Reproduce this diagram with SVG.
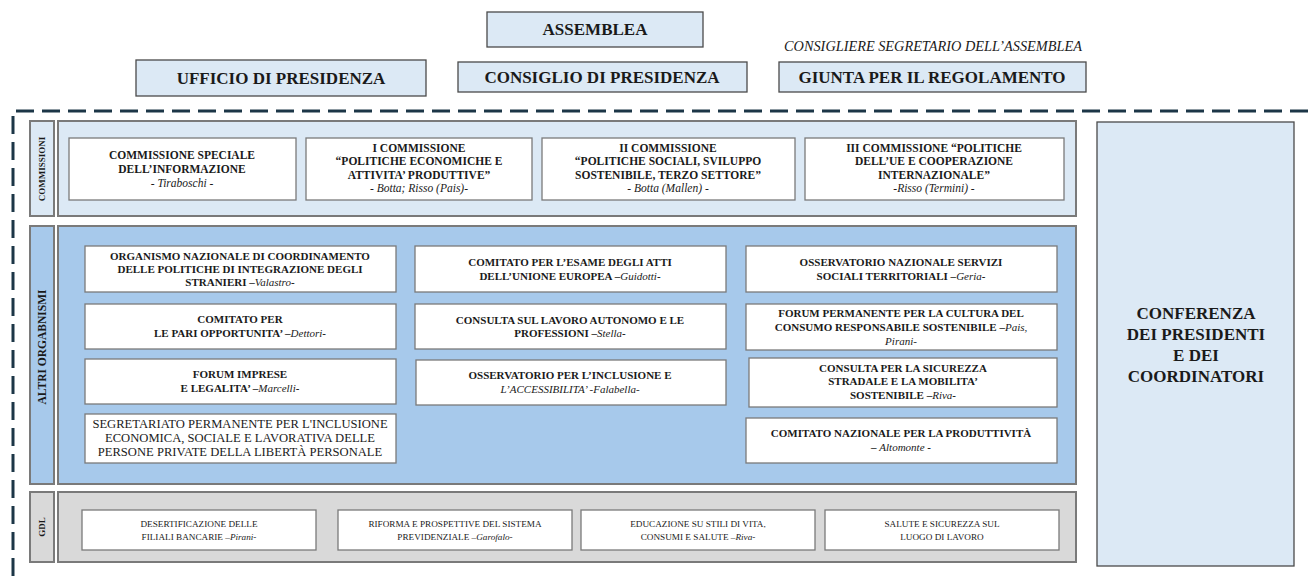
<svg xmlns="http://www.w3.org/2000/svg" width="1310" height="576" viewBox="0 0 1310 576">
<style>
text{font-family:"Liberation Serif","Times New Roman",serif;fill:#1a1a1a;text-anchor:middle}
.top{fill:#dce9f5;stroke:#4a4a4a;stroke-width:1.3}
.hd{font-size:17px;font-weight:bold}
.wb{fill:#ffffff;stroke:#7a7a7a;stroke-width:1.3}
.cont{stroke:#7a7a7a;stroke-width:2}
.lb{fill:#dce9f5}
.lbA{fill:#a7c9eb}
.lbG{fill:#d9d9d9}
.c{font-size:11.5px;font-weight:bold}
.a{font-size:11px;font-weight:bold}
.s{font-size:12.6px}
.g{font-size:9.2px}
.i{font-style:italic;font-weight:normal}
.v{font-size:9px;font-weight:bold}
</style>
<g id="border"><path d="M13 576 V111 H1310" fill="none" stroke="#1c3647" stroke-width="3" stroke-dasharray="18 8"/></g>
<g id="assemblea"><rect class="top" x="487" y="12" width="216" height="35"/><text class="hd" x="595" y="35">ASSEMBLEA</text></g>
<g id="ufficio"><rect class="top" x="136" y="60" width="290" height="36"/><text class="hd" x="281" y="84">UFFICIO DI PRESIDENZA</text></g>
<g id="consiglio"><rect class="top" x="458" y="62" width="289" height="30"/><text class="hd" x="602" y="83">CONSIGLIO DI PRESIDENZA</text></g>
<g id="giunta"><rect class="top" x="779" y="62" width="307" height="30"/><text class="hd" x="932" y="83">GIUNTA PER IL REGOLAMENTO</text><text x="933" y="51" style="font-size:14.3px;font-style:italic">CONSIGLIERE SEGRETARIO DELL’ASSEMBLEA</text></g>
<g id="commissioni">
<rect class="cont lb" x="30" y="121" width="24" height="95"/>
<text class="v" transform="translate(45 169) rotate(-90)">COMMISSIONI</text>
<rect class="cont lb" x="58" y="121" width="1018" height="95"/>
<g id="comm1"><rect class="wb" x="69" y="138" width="227" height="62"/><text class="c"><tspan x="182" y="159">COMMISSIONE SPECIALE</tspan><tspan x="182" y="173">DELL’INFORMAZIONE</tspan><tspan class="i" x="182" y="187">- Tiraboschi  -</tspan></text></g>
<g id="comm2"><rect class="wb" x="306" y="138" width="226" height="62"/><text class="c"><tspan x="419" y="152">I COMMISSIONE</tspan><tspan x="419" y="165">“POLITICHE ECONOMICHE E</tspan><tspan x="419" y="179">ATTIVITA’ PRODUTTIVE”</tspan><tspan class="i" x="419" y="192">- Botta; Risso  (Pais)-</tspan></text></g>
<g id="comm3"><rect class="wb" x="542" y="138" width="253" height="62"/><text class="c"><tspan x="668" y="152">II COMMISSIONE</tspan><tspan x="668" y="165">“POLITICHE SOCIALI, SVILUPPO</tspan><tspan x="668" y="179">SOSTENIBILE, TERZO SETTORE”</tspan><tspan class="i" x="668" y="192">- Botta (Mallen) -</tspan></text></g>
<g id="comm4"><rect class="wb" x="805" y="138" width="259" height="62"/><text class="c"><tspan x="934" y="152">III COMMISSIONE “POLITICHE</tspan><tspan x="934" y="165">DELL’UE E COOPERAZIONE</tspan><tspan x="934" y="179">INTERNAZIONALE”</tspan><tspan class="i" x="934" y="192">-Risso (Termini) -</tspan></text></g>
</g>
<g id="altri">
<rect class="cont lbA" x="30" y="226" width="24" height="258"/>
<text class="v" style="font-size:11.5px" transform="translate(46 347) rotate(-90)">ALTRI  ORGABNISMI</text>
<rect class="cont lbA" x="58" y="226" width="1018" height="258"/>
<g id="a1"><rect class="wb" x="85" y="246" width="311" height="46"/><text class="a"><tspan x="240" y="260">ORGANISMO NAZIONALE DI COORDINAMENTO</tspan><tspan x="240" y="273">DELLE POLITICHE DI INTEGRAZIONE DEGLI</tspan><tspan x="240" y="286">STRANIERI –<tspan class="i">Valastro</tspan>-</tspan></text></g>
<g id="a2"><rect class="wb" x="85" y="304" width="311" height="45"/><text class="a"><tspan x="240" y="323">COMITATO PER</tspan><tspan x="240" y="337">LE PARI OPPORTUNITA’ –<tspan class="i">Dettori</tspan>-</tspan></text></g>
<g id="a3"><rect class="wb" x="85" y="359" width="311" height="45"/><text class="a"><tspan x="240" y="378">FORUM IMPRESE</tspan><tspan x="240" y="392">E LEGALITA’ –<tspan class="i">Marcelli</tspan>-</tspan></text></g>
<g id="a4"><rect class="wb" x="85" y="414" width="311" height="49"/><text class="s"><tspan x="240" y="428">SEGRETARIATO PERMANENTE PER L'INCLUSIONE</tspan><tspan x="240" y="442">ECONOMICA, SOCIALE E LAVORATIVA DELLE</tspan><tspan x="240" y="456">PERSONE PRIVATE DELLA LIBERTÀ PERSONALE</tspan></text></g>
<g id="a5"><rect class="wb" x="415" y="246" width="311" height="46"/><text class="a"><tspan x="570" y="266">COMITATO PER L’ESAME  DEGLI ATTI</tspan><tspan x="570" y="280">DELL’UNIONE EUROPEA –<tspan class="i">Guidotti</tspan>-</tspan></text></g>
<g id="a6"><rect class="wb" x="415" y="304" width="311" height="45"/><text class="a"><tspan x="570" y="324">CONSULTA SUL LAVORO AUTONOMO E LE</tspan><tspan x="570" y="337">PROFESSIONI –<tspan class="i">Stella</tspan>-</tspan></text></g>
<g id="a7"><rect class="wb" x="416" y="360" width="310" height="45"/><text class="a"><tspan x="570" y="379">OSSERVATORIO PER L’INCLUSIONE E</tspan><tspan class="i" x="570" y="393">L’ACCESSIBILITA’ -Falabella-</tspan></text></g>
<g id="a8"><rect class="wb" x="746" y="246" width="311" height="46"/><text class="a"><tspan x="901" y="266">OSSERVATORIO NAZIONALE SERVIZI</tspan><tspan x="901" y="280">SOCIALI TERRITORIALI –<tspan class="i">Geria</tspan>-</tspan></text></g>
<g id="a9"><rect class="wb" x="746" y="304" width="311" height="46"/><text class="a"><tspan x="901" y="317">FORUM PERMANENTE PER LA CULTURA DEL</tspan><tspan x="901" y="331">CONSUMO RESPONSABILE SOSTENIBILE –<tspan class="i">Pais,</tspan></tspan><tspan class="i" x="901" y="345">Pirani-</tspan></text></g>
<g id="a10"><rect class="wb" x="749" y="358" width="308" height="49"/><text class="a"><tspan x="903" y="372">CONSULTA PER LA SICUREZZA</tspan><tspan x="903" y="385">STRADALE E LA MOBILITA’</tspan><tspan x="903" y="399">SOSTENIBILE –<tspan class="i">Riva</tspan>-</tspan></text></g>
<g id="a11"><rect class="wb" x="746" y="418" width="311" height="45"/><text class="a"><tspan x="901" y="437">COMITATO NAZIONALE PER LA PRODUTTIVITÀ</tspan><tspan x="901" y="451">– <tspan class="i">Altomonte</tspan> -</tspan></text></g>
</g>
<g id="gdl">
<rect class="cont lbG" x="30" y="492" width="24" height="70"/>
<text class="v" transform="translate(45 527) rotate(-90)">GDL</text>
<rect class="cont lbG" x="58" y="492" width="1018" height="70"/>
<g id="g1"><rect class="wb" x="82" y="510" width="234" height="40"/><text class="g"><tspan x="199" y="527">DESERTIFICAZIONE DELLE</tspan><tspan x="199" y="540">FILIALI BANCARIE –<tspan class="i">Pirani</tspan>-</tspan></text></g>
<g id="g2"><rect class="wb" x="338" y="510" width="234" height="40"/><text class="g"><tspan x="455" y="527">RIFORMA E PROSPETTIVE DEL SISTEMA</tspan><tspan x="455" y="540">PREVIDENZIALE –<tspan class="i">Garofalo</tspan>-</tspan></text></g>
<g id="g3"><rect class="wb" x="581" y="510" width="234" height="40"/><text class="g"><tspan x="698" y="527">EDUCAZIONE SU STILI DI VITA,</tspan><tspan x="698" y="540">CONSUMI E SALUTE –<tspan class="i">Riva</tspan>-</tspan></text></g>
<g id="g4"><rect class="wb" x="825" y="510" width="234" height="40"/><text class="g"><tspan x="942" y="527">SALUTE E SICUREZZA SUL</tspan><tspan x="942" y="540">LUOGO DI LAVORO</tspan></text></g>
</g>
<g id="conferenza"><rect x="1097" y="122" width="197" height="444" fill="#dce9f5" stroke="#4a4a4a" stroke-width="1.3"/><text class="hd"><tspan x="1196" y="319">CONFERENZA</tspan><tspan x="1196" y="340">DEI PRESIDENTI</tspan><tspan x="1196" y="361">E DEI</tspan><tspan x="1196" y="382">COORDINATORI</tspan></text></g>
</svg>
